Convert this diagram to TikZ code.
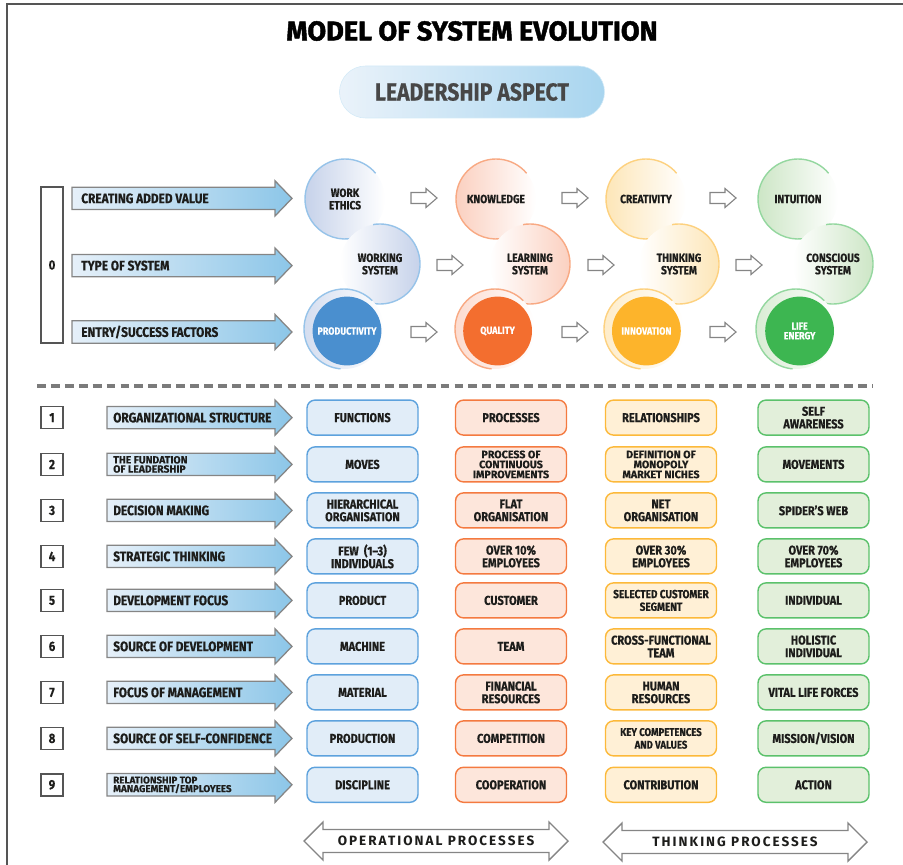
\documentclass[tikz,border=0pt]{standalone}
\usepackage{fontspec}
\setmainfont{Fira Sans}[FakeBold=0.4]
\newfontfamily\condfont{Fira Sans}[FakeStretch=0.86, FakeBold=0.5]
\newfontfamily\titlefont{Fira Sans}[FakeBold=1.6]
\newfontfamily\spacedfont{Fira Sans}[LetterSpace=15]

\definecolor{ink}{HTML}{1D1D1B}
\definecolor{frame}{HTML}{555555}
\definecolor{edge}{HTML}{858585}
\definecolor{dashgray}{HTML}{7B7B7B}
\definecolor{arrowlt}{HTML}{E6F0F9}
\definecolor{arrowdk}{HTML}{8CC6E8}
\definecolor{pillsh}{HTML}{A8D5EF}
\definecolor{bluedk}{HTML}{4A8FCF}
\definecolor{bluelt}{HTML}{E1EDF8}
\definecolor{blueln}{HTML}{5DA2DD}
\definecolor{bluesh}{HTML}{C6D2EA}
\definecolor{orgdk}{HTML}{F36E2F}
\definecolor{orglt}{HTML}{FDE6DB}
\definecolor{orgln}{HTML}{F47A40}
\definecolor{orgsh}{HTML}{FBD0C0}
\definecolor{yeldk}{HTML}{FDB42B}
\definecolor{yellt}{HTML}{FFF0D6}
\definecolor{yelln}{HTML}{FCB93A}
\definecolor{yelsh}{HTML}{FDE6B8}
\definecolor{grndk}{HTML}{3DB651}
\definecolor{grnlt}{HTML}{E2EFDA}
\definecolor{grnln}{HTML}{5BC16B}
\definecolor{grnsh}{HTML}{CDE6C6}

\tikzset{
  rowtext/.style={anchor=west, inner sep=0pt, text=ink, font=\condfont\bfseries\fontsize{9.8}{10}\selectfont},
  tinytext/.style={rowtext, align=left, font=\bfseries\fontsize{7.4}{6.5}\selectfont},
  numbox/.style={draw=frame, line width=1.1pt, fill=white, minimum size=0.55cm, inner sep=0pt, text=ink, font=\condfont\bfseries\fontsize{9.5}{10}\selectfont},
  cell/.style={draw=#1ln, fill=#1lt, line width=1pt, rounded corners=0.2cm, minimum width=2.775cm, minimum height=0.875cm, inner sep=1pt, align=center, text=ink, font=\condfont\bfseries\fontsize{9.1}{9}\selectfont},
  smallcell/.style={cell=#1, font=\bfseries\fontsize{7.6}{7.1}\selectfont},
  bubble/.style={circle, minimum size=2cm, inner sep=0pt, outer sep=0pt, align=center, text=ink, font=\condfont\bfseries\fontsize{8.4}{8.8}\selectfont},
  core/.style={circle, fill=#1dk, minimum size=1.72cm, inner sep=0pt, outer sep=0pt, align=center, text=white, font=\condfont\bfseries\fontsize{7.4}{6.8}\selectfont},
  rim/.style={line width=1pt, draw=#1ln!65!white},
  pill/.style={rounded corners=0.65cm, minimum width=6.625cm, minimum height=1.3cm, left color=bluelt!70!white, right color=pillsh, draw=pillsh!50!white, text=black!72, font=\condfont\bfseries\fontsize{17.5}{18}\selectfont},
  spaced/.style={inner sep=0pt, text=ink, font=\spacedfont\bfseries\fontsize{9.6}{10}\selectfont},
  pics/rowarrow/.style={code={
    \shadedraw[draw=edge, line width=0.9pt, left color=arrowlt, right color=arrowdk]
      (-#1,0.28) -- (-0.425,0.28) -- (-0.425,0.44) -- (0,0) -- (-0.425,-0.44) -- (-0.425,-0.28) -- (-#1,-0.28) -- cycle;
  }},
  pics/nextarrow/.style={code={
    \draw[edge, line width=0.8pt, fill=white]
      (0,0.1375) -- (0.375,0.1375) -- (0.375,0.2375) -- (0.65,0) -- (0.375,-0.2375) -- (0.375,-0.1375) -- (0,-0.1375) -- cycle;
  }},
  pics/twoway/.style={code={
    \draw[edge, line width=1pt, fill=white]
      (-3.3,0) -- (-2.825,0.475) -- (-2.825,0.2875) -- (2.825,0.2875) -- (2.825,0.475) -- (3.3,0)
      -- (2.825,-0.475) -- (2.825,-0.2875) -- (-2.825,-0.2875) -- (-2.825,-0.475) -- cycle;
  }}
}

\begin{document}
\begin{tikzpicture}
	\useasboundingbox (0,0) rectangle (22.575,-21.625);
	\draw[frame, line width=1.6pt] (0.175,-21.8) -- (0.175,-0.1) -- (22.8,-0.1);

	\node (title) at (11.8,-0.775) {\titlefont\bfseries\fontsize{19.3}{20}\selectfont MODEL OF SYSTEM EVOLUTION};
	\node[pill] (lead) at (11.8,-2.3) {LEADERSHIP ASPECT};

	\node[numbox, minimum height=3.9cm] (n0) at (1.3,-6.625) {0};
	\pic at (7.3,-4.96) {rowarrow=5.5};
	\node[rowtext] (t1) at (2.025,-4.96) {CREATING ADDED VALUE};
	\pic at (7.3,-6.64) {rowarrow=5.5};
	\node[rowtext] (t2) at (2.025,-6.64) {TYPE OF SYSTEM};
	\pic at (7.3,-8.3) {rowarrow=5.5};
	\node[rowtext] (t3) at (2.025,-8.3) {ENTRY/SUCCESS FACTORS};

	\node[bubble, left color=bluesh, right color=white] (we) at (8.625,-4.975) {WORK\\ETHICS};
	\draw[rim=blue] (we.40) arc[start angle=40, end angle=285, radius=1cm];
	\node[bubble, left color=white, right color=bluesh] (ws) at (9.5,-6.6) {WORKING\\SYSTEM};
	\draw[rim=blue] (ws.-115) arc[start angle=-115, end angle=100, radius=1cm];
	\node[bubble, left color=bluesh!75!white, right color=white] (prr) at (8.6,-8.225) {};
	\draw[rim=blue] (prr.45) arc[start angle=45, end angle=265, radius=1cm];
	\node[core=blue] (pr) at (8.675,-8.275) {PRODUCTIVITY};

	\node[bubble, left color=orgsh, right color=white] (kn) at (12.4,-4.975) {KNOWLEDGE};
	\draw[rim=org] (kn.40) arc[start angle=40, end angle=285, radius=1cm];
	\node[bubble, left color=white, right color=orgsh] (ls) at (13.25,-6.6) {LEARNING\\SYSTEM};
	\draw[rim=org] (ls.-115) arc[start angle=-115, end angle=100, radius=1cm];
	\node[bubble, left color=orgsh!75!white, right color=white] (qur) at (12.375,-8.225) {};
	\draw[rim=org] (qur.45) arc[start angle=45, end angle=265, radius=1cm];
	\node[core=org] (qu) at (12.44,-8.275) {QUALITY};

	\node[bubble, left color=yelsh, right color=white] (cr) at (16.15,-4.975) {CREATIVITY};
	\draw[rim=yel] (cr.40) arc[start angle=40, end angle=285, radius=1cm];
	\node[bubble, left color=white, right color=yelsh] (ts) at (16.975,-6.6) {THINKING\\SYSTEM};
	\draw[rim=yel] (ts.-115) arc[start angle=-115, end angle=100, radius=1cm];
	\node[bubble, left color=yelsh!75!white, right color=white] (inr) at (16.1,-8.225) {};
	\draw[rim=yel] (inr.45) arc[start angle=45, end angle=265, radius=1cm];
	\node[core=yel] (inno) at (16.16,-8.275) {INNOVATION};

	\node[bubble, left color=grnsh, right color=white] (intu) at (19.95,-4.975) {INTUITION};
	\draw[rim=grn] (intu.40) arc[start angle=40, end angle=285, radius=1cm];
	\node[bubble, left color=white, right color=grnsh] (cs) at (20.825,-6.6) {CONSCIOUS\\SYSTEM};
	\draw[rim=grn] (cs.-115) arc[start angle=-115, end angle=100, radius=1cm];
	\node[bubble, left color=grnsh!75!white, right color=white] (ler) at (19.9,-8.225) {};
	\draw[rim=grn] (ler.45) arc[start angle=45, end angle=265, radius=1cm];
	\node[core=grn] (le) at (19.99,-8.275) {LIFE\\ENERGY};

	\pic at (10.275,-4.95) {nextarrow};
	\pic at (14.05,-4.95) {nextarrow};
	\pic at (17.75,-4.95) {nextarrow};
	\pic at (10.925,-6.625) {nextarrow};
	\pic at (14.7,-6.625) {nextarrow};
	\pic at (18.4,-6.625) {nextarrow};
	\pic at (10.275,-8.3) {nextarrow};
	\pic at (14.05,-8.3) {nextarrow};
	\pic at (17.75,-8.3) {nextarrow};

	\draw[dashgray, line width=2.5pt, dash pattern=on 6.3pt off 3.6pt] (0.925,-9.65) -- (21.825,-9.65);

	\node[numbox] (n1) at (1.3,-10.44) {1};
	\pic at (7.3,-10.44) {rowarrow=4.625};
	\node[rowtext] (l1) at (2.825,-10.44) {ORGANIZATIONAL STRUCTURE};
	\node[cell=blue] (r1a) at (9.0625,-10.44) {FUNCTIONS};
	\node[cell=org] (r1b) at (12.775,-10.44) {PROCESSES};
	\node[cell=yel] (r1c) at (16.525,-10.44) {RELATIONSHIPS};
	\node[cell=grn] (r1d) at (20.3375,-10.44) {SELF\\AWARENESS};

	\node[numbox] (n2) at (1.3,-11.61) {2};
	\pic at (7.3,-11.61) {rowarrow=4.625};
	\node[tinytext] (l2) at (2.825,-11.61) {THE FUNDATION\\OF LEADERSHIP};
	\node[cell=blue] (r2a) at (9.0625,-11.61) {MOVES};
	\node[smallcell=org] (r2b) at (12.775,-11.61) {PROCESS OF\\CONTINUOUS\\IMPROVEMENTS};
	\node[smallcell=yel] (r2c) at (16.525,-11.61) {DEFINITION OF\\MONOPOLY\\MARKET NICHES};
	\node[cell=grn] (r2d) at (20.3375,-11.61) {MOVEMENTS};

	\node[numbox] (n3) at (1.3,-12.76) {3};
	\pic at (7.3,-12.76) {rowarrow=4.625};
	\node[rowtext] (l3) at (2.825,-12.76) {DECISION MAKING};
	\node[cell=blue] (r3a) at (9.0625,-12.76) {HIERARCHICAL\\ORGANISATION};
	\node[cell=org] (r3b) at (12.775,-12.76) {FLAT\\ORGANISATION};
	\node[cell=yel] (r3c) at (16.525,-12.76) {NET\\ORGANISATION};
	\node[cell=grn] (r3d) at (20.3375,-12.76) {SPIDER’S WEB};

	\node[numbox] (n4) at (1.3,-13.91) {4};
	\pic at (7.3,-13.91) {rowarrow=4.625};
	\node[rowtext] (l4) at (2.825,-13.91) {STRATEGIC THINKING};
	\node[cell=blue] (r4a) at (9.0625,-13.91) {FEW~ (1–3)\\INDIVIDUALS};
	\node[cell=org] (r4b) at (12.775,-13.91) {OVER 10\%\\EMPLOYEES};
	\node[cell=yel] (r4c) at (16.525,-13.91) {OVER 30\%\\EMPLOYEES};
	\node[cell=grn] (r4d) at (20.3375,-13.91) {OVER 70\%\\EMPLOYEES};

	\node[numbox] (n5) at (1.3,-15.01) {5};
	\pic at (7.3,-15.01) {rowarrow=4.625};
	\node[rowtext] (l5) at (2.825,-15.01) {DEVELOPMENT FOCUS};
	\node[cell=blue] (r5a) at (9.0625,-15.01) {PRODUCT};
	\node[cell=org] (r5b) at (12.775,-15.01) {CUSTOMER};
	\node[cell=yel, font=\condfont\bfseries\fontsize{8.3}{9}\selectfont] (r5c) at (16.525,-15.01) {SELECTED CUSTOMER\\SEGMENT};
	\node[cell=grn] (r5d) at (20.3375,-15.01) {INDIVIDUAL};

	\node[numbox] (n6) at (1.3,-16.16) {6};
	\pic at (7.3,-16.16) {rowarrow=4.625};
	\node[rowtext] (l6) at (2.825,-16.16) {SOURCE OF DEVELOPMENT};
	\node[cell=blue] (r6a) at (9.0625,-16.16) {MACHINE};
	\node[cell=org] (r6b) at (12.775,-16.16) {TEAM};
	\node[cell=yel] (r6c) at (16.525,-16.16) {CROSS-FUNCTIONAL\\TEAM};
	\node[cell=grn] (r6d) at (20.3375,-16.16) {HOLISTIC\\INDIVIDUAL};

	\node[numbox] (n7) at (1.3,-17.31) {7};
	\pic at (7.3,-17.31) {rowarrow=4.625};
	\node[rowtext] (l7) at (2.825,-17.31) {FOCUS OF MANAGEMENT};
	\node[cell=blue] (r7a) at (9.0625,-17.31) {MATERIAL};
	\node[cell=org] (r7b) at (12.775,-17.31) {FINANCIAL\\RESOURCES};
	\node[cell=yel] (r7c) at (16.525,-17.31) {HUMAN\\RESOURCES};
	\node[cell=grn] (r7d) at (20.3375,-17.31) {VITAL LIFE FORCES};

	\node[numbox] (n8) at (1.3,-18.46) {8};
	\pic at (7.3,-18.46) {rowarrow=4.625};
	\node[rowtext] (l8) at (2.825,-18.46) {SOURCE OF SELF-CONFIDENCE};
	\node[cell=blue] (r8a) at (9.0625,-18.46) {PRODUCTION};
	\node[cell=org] (r8b) at (12.775,-18.46) {COMPETITION};
	\node[cell=yel, font=\condfont\bfseries\fontsize{7.9}{9}\selectfont] (r8c) at (16.525,-18.46) {KEY COMPETENCES\\AND VALUES};
	\node[cell=grn] (r8d) at (20.3375,-18.46) {MISSION/VISION};

	\node[numbox] (n9) at (1.3,-19.62) {9};
	\pic at (7.3,-19.62) {rowarrow=4.625};
	\node[tinytext, font=\bfseries\fontsize{7}{6.1}\selectfont] (l9) at (2.825,-19.62) {RELATIONSHIP TOP\\MANAGEMENT/EMPLOYEES};
	\node[cell=blue] (r9a) at (9.0625,-19.62) {DISCIPLINE};
	\node[cell=org] (r9b) at (12.775,-19.62) {COOPERATION};
	\node[cell=yel] (r9c) at (16.525,-19.62) {CONTRIBUTION};
	\node[cell=grn] (r9d) at (20.3375,-19.62) {ACTION};

	\pic at (10.9,-21.025) {twoway};
	\node[spaced] (op) at (10.9,-21.025) {OPERATIONAL PROCESSES};
	\pic at (18.375,-21.05) {twoway};
	\node[spaced] (tp) at (18.375,-21.05) {THINKING PROCESSES};
\end{tikzpicture}
\end{document}
